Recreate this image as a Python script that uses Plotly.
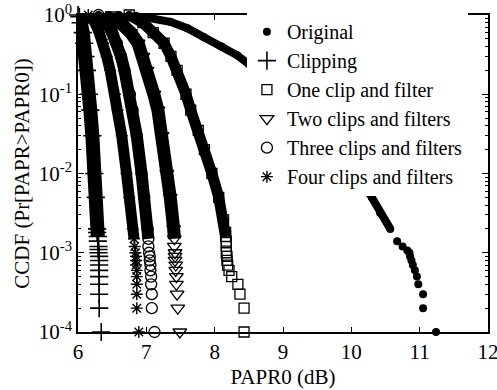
import plotly.graph_objects as go

# ---------------- data ----------------
series_names = ["Original", "Clipping", "One clip and filter",
                "Two clips and filters", "Three clips and filters",
                "Four clips and filters"]

orig_x = [6.30, 6.45, 6.60, 6.75, 6.85, 7.00, 7.35, 7.60, 7.83, 8.10, 8.33, 8.50,
          8.71, 9.00, 9.30, 9.60, 9.90, 10.13, 10.30, 10.42, 10.57, 10.67,
          10.75, 10.82, 10.85, 10.86, 10.88, 10.90, 10.93, 10.96, 10.98,
          11.05, 11.05, 11.24]
orig_y = [1.0, 1.0, 1.0, 1.0, 0.98, 0.93, 0.82, 0.68, 0.53, 0.40, 0.31, 0.24,
          0.18, 0.11, 0.06, 0.03, 0.015, 0.0083, 0.005, 0.0032, 0.002, 0.0014,
          0.0012, 0.00107, 0.001, 0.0009, 0.0008, 0.0007, 0.0006, 0.0005, 0.0004,
          0.0003, 0.0002, 0.0001]

clip_x = [6.00, 6.02, 6.04, 6.07, 6.09, 6.11, 6.13, 6.16, 6.18, 6.21, 6.24, 6.26,
          6.28, 6.28, 6.29, 6.29, 6.30, 6.30, 6.30, 6.31, 6.31, 6.31, 6.31,
          6.31, 6.31, 6.31, 6.31, 6.34]
clip_y = [1.0, 0.95, 0.8, 0.6, 0.44, 0.3, 0.2, 0.1, 0.063, 0.03, 0.01, 0.005,
          0.002, 0.0018, 0.0016, 0.0014, 0.0012, 0.0011, 0.001, 0.0009, 0.0008,
          0.0007, 0.0006, 0.0005, 0.0004, 0.0003, 0.0002, 0.0001]

one_x = [6.75, 6.95, 7.10, 7.26, 7.36, 7.45, 7.58, 7.65, 7.76, 7.85, 7.96, 8.06,
         8.13, 8.16, 8.16, 8.17, 8.17, 8.17, 8.18, 8.18, 8.19, 8.21, 8.25, 8.34,
         8.37, 8.43, 8.43]
one_y = [1.0, 0.8, 0.6, 0.44, 0.3, 0.2, 0.1, 0.063, 0.035, 0.02, 0.01, 0.005,
         0.0026, 0.0018, 0.0016, 0.0014, 0.0012, 0.001, 0.0009, 0.0008, 0.0007,
         0.0006, 0.0005, 0.0004, 0.0003, 0.0002, 0.0001]

two_x = [6.50, 6.65, 6.77, 6.88, 6.95, 7.01, 7.11, 7.17, 7.23, 7.30, 7.35, 7.40,
         7.41, 7.41, 7.42, 7.42, 7.42, 7.43, 7.43, 7.44, 7.44, 7.45, 7.46, 7.49]
two_y = [1.0, 0.8, 0.6, 0.44, 0.3, 0.2, 0.1, 0.063, 0.03, 0.01, 0.005, 0.002,
         0.0015, 0.0012, 0.001, 0.0009, 0.0008, 0.0007, 0.0006, 0.0005, 0.0004,
         0.0003, 0.0002, 0.0001]

three_x = [6.30, 6.42, 6.50, 6.57, 6.63, 6.68, 6.76, 6.80, 6.86, 6.93, 6.97, 7.02,
           7.03, 7.03, 7.04, 7.05, 7.05, 7.06, 7.06, 7.07, 7.07, 7.08, 7.08, 7.12]
three_y = [1.0, 0.8, 0.6, 0.44, 0.3, 0.2, 0.1, 0.063, 0.03, 0.01, 0.005, 0.002,
           0.0015, 0.0012, 0.001, 0.0009, 0.0008, 0.0007, 0.0006, 0.0005, 0.0004,
           0.0003, 0.0002, 0.0001]

four_x = [6.15, 6.25, 6.31, 6.37, 6.42, 6.47, 6.54, 6.58, 6.64, 6.71, 6.75, 6.80,
          6.82, 6.83, 6.84, 6.85, 6.85, 6.85, 6.86, 6.86, 6.86, 6.86, 6.86, 6.89]
four_y = [1.0, 0.8, 0.6, 0.44, 0.3, 0.2, 0.1, 0.063, 0.03, 0.01, 0.005, 0.002,
          0.0015, 0.0012, 0.001, 0.0009, 0.0008, 0.0007, 0.0006, 0.0005, 0.0004,
          0.0003, 0.0002, 0.0001]

x_tick_vals = [6, 7, 8, 9, 10, 11, 12]
y_tick_vals = [1e-4, 1e-3, 1e-2, 1e-1, 1]
y_tick_text = ["10<sup>-4</sup>", "10<sup>-3</sup>", "10<sup>-2</sup>",
               "10<sup>-1</sup>", "10<sup>0</sup>"]

# ---------------- styling ----------------
FONT = "Liberation Serif, Times New Roman, Times, serif"
dense_limit = 0.0015   # above this the markers merge into a solid band

styles = [
    (orig_x, orig_y, dict(symbol="circle", size=8, color="black"), 8),
    (clip_x, clip_y, dict(symbol="cross-thin", size=13, color="black",
                          line=dict(color="black", width=1.6)), 14),
    (one_x, one_y, dict(symbol="square-open", size=10, color="black",
                        line=dict(color="black", width=1.3)), 11),
    (two_x, two_y, dict(symbol="triangle-down-open", size=12, color="black",
                        line=dict(color="black", width=1.3)), 13),
    (three_x, three_y, dict(symbol="circle-open", size=11, color="black",
                            line=dict(color="black", width=1.3)), 12),
    (four_x, four_y, dict(symbol="asterisk-open", size=10, color="black",
                          line=dict(color="black", width=1.4)), 11),
]

fig = go.Figure()
for name, (xs, ys, mk, band_w) in zip(series_names, styles):
    bx = [x for x, y in zip(xs, ys) if y >= dense_limit]
    by = [y for y in ys if y >= dense_limit]
    fig.add_trace(go.Scatter(x=bx, y=by, mode="lines", showlegend=False,
                             line=dict(color="black", width=band_w),
                             hoverinfo="skip"))
    fig.add_trace(go.Scatter(x=xs, y=ys, mode="markers", name=name,
                             marker=mk, cliponaxis=False))

minor_vals = [k * d for d in y_tick_vals[:-1] for k in range(2, 10)]

fig.update_layout(
    width=497, height=390,
    margin=dict(l=78, r=9, t=15, b=58),
    paper_bgcolor="white", plot_bgcolor="white",
    font=dict(family=FONT, size=21, color="black"),
    showlegend=True,
    legend=dict(x=0.412, y=1.009, xanchor="left", yanchor="top",
                bgcolor="white", borderwidth=0, itemwidth=30,
                font=dict(family=FONT, size=20, color="black"),
                tracegroupgap=0),
    xaxis=dict(range=[6, 12], tickvals=x_tick_vals, ticks="inside", ticklen=5,
               tickcolor="black", showline=True, linecolor="black", linewidth=1.5,
               mirror="allticks", showgrid=False, zeroline=False, automargin=False,
               ticklabeloverflow="allow",
               tickfont=dict(family=FONT, size=21),
               title=dict(text="PAPR0 (dB)", font=dict(family=FONT, size=21),
                          standoff=6)),
    yaxis=dict(type="log", range=[-4, 0], tickmode="array",
               tickvals=y_tick_vals, ticktext=y_tick_text,
               ticks="inside", ticklen=6, tickcolor="black",
               minor=dict(tickvals=minor_vals, ticks="inside",
                          ticklen=3, tickcolor="black", showgrid=False),
               showline=True, linecolor="black", linewidth=1.5,
               mirror="allticks", showgrid=False, zeroline=False, automargin=False,
               ticklabeloverflow="allow",
               tickfont=dict(family=FONT, size=21),
               title=dict(text="CCDF (Pr[PAPR>PAPR0])",
                          font=dict(family=FONT, size=21), standoff=3)),
)

# remove the default 8px page margin so the 497x390 figure fills the window
fig.write_html("out.html",
               config={"displayModeBar": False},
               post_script="document.body.style.margin='0';"
                           "document.body.style.overflow='hidden';")
